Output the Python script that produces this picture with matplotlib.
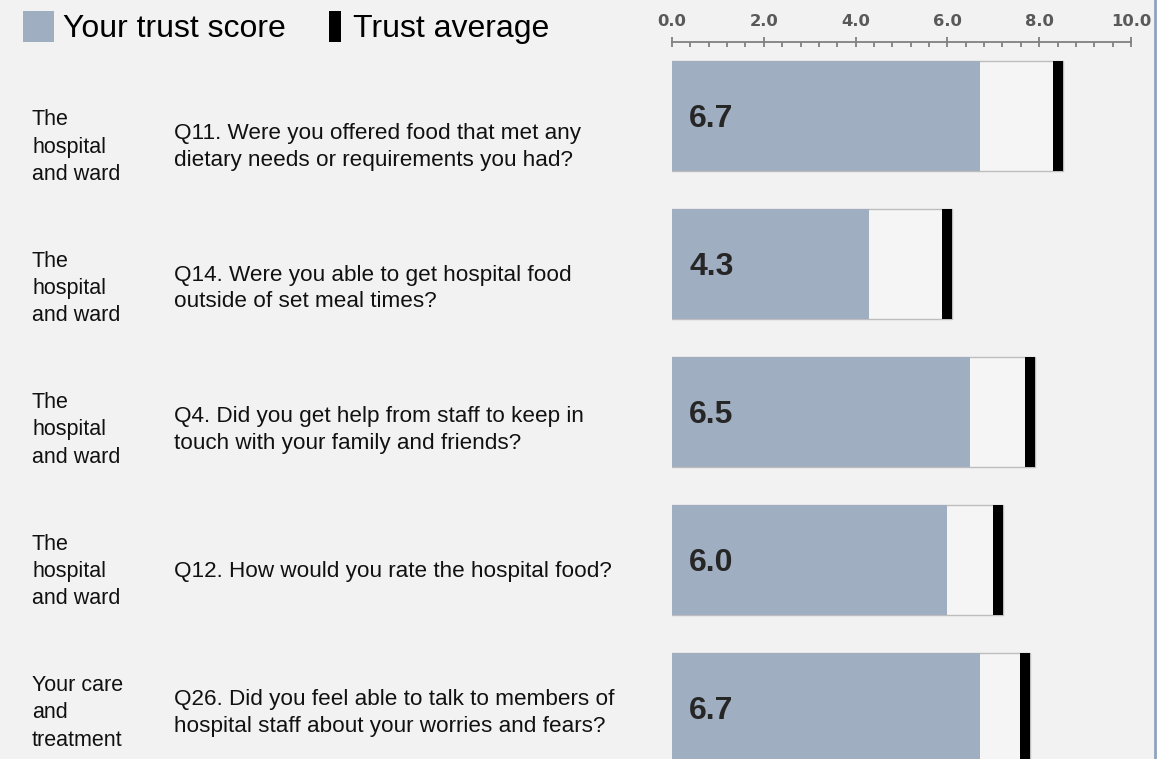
import matplotlib.pyplot as plt
import matplotlib.transforms as mtransforms
from matplotlib.patches import Rectangle
from matplotlib.lines import Line2D
from matplotlib.ticker import MultipleLocator

plt.rcParams['font.family'] = ['Liberation Sans', 'DejaVu Sans']

sections = ["The\nhospital\nand ward", "The\nhospital\nand ward",
            "The\nhospital\nand ward", "The\nhospital\nand ward",
            "Your care\nand\ntreatment"]
questions = ["Q11. Were you offered food that met any\ndietary needs or requirements you had?",
             "Q14. Were you able to get hospital food\noutside of set meal times?",
             "Q4. Did you get help from staff to keep in\ntouch with your family and friends?",
             "Q12. How would you rate the hospital food?",
             "Q26. Did you feel able to talk to members of\nhospital staff about your worries and fears?"]
scores = [6.7, 4.3, 6.5, 6.0, 6.7]
averages = [8.4, 6.0, 7.8, 7.1, 7.7]
ticks = [0, 2, 4, 6, 8, 10]

W, H = 1173, 759
score_col = '#a0aec1'
bg = '#f2f2f2'

fig = plt.figure(figsize=(W / 100, H / 100), dpi=100)
fig.patch.set_facecolor('white')
fig.patches.append(Rectangle((0, 0), 1154 / W, 1, transform=fig.transFigure,
                             facecolor=bg, edgecolor='none', zorder=-10))
fig.add_artist(Line2D([1155 / W] * 2, [0, 1], color='#8fa3bf', lw=2))

# legend
fig.patches.append(Rectangle((23 / W, 1 - 42 / H), 31 / W, 31 / H, transform=fig.transFigure,
                             facecolor=score_col, edgecolor='none'))
fig.text(63 / W, 1 - 37 / H, "Your trust score", fontsize=23, va='baseline', color='black')
fig.patches.append(Rectangle((329 / W, 1 - 42 / H), 12 / W, 31 / H, transform=fig.transFigure,
                             facecolor='black', edgecolor='none'))
fig.text(353 / W, 1 - 37 / H, "Trust average", fontsize=23, va='baseline', color='black')

# text column
tax = fig.add_axes([0, 0, 1, 1])
tax.set_axis_off()
tax.set_ylim((H - 147) / 141.5, -147 / 141.5)
trans = mtransforms.blended_transform_factory(fig.transFigure, tax.transData)
for i, (sec, q) in enumerate(zip(sections, questions)):
    tax.text(32 / W, i, sec, transform=trans, fontsize=15.5, va='center', ha='left',
             linespacing=1.38, color='#111111')
    tax.text(174 / W, i, q, transform=trans, fontsize=16.2, va='center', ha='left',
             linespacing=1.32, color='#111111')

# bars
ax = fig.add_axes([672 / W, 0, 459 / W, 1])
ax.set_facecolor('none')
ax.set_xlim(0, 10)
ax.set_ylim((H - 116) / 148, -116 / 148)
ypos = list(range(len(scores)))
bh = 0.743
mw = 0.22
ax.barh(ypos, [a + mw / 2 for a in averages], height=bh, color='#f5f5f5',
        edgecolor='#bdbdbd', linewidth=1)
ax.barh(ypos, scores, height=bh, color=score_col, edgecolor='none')
ax.barh(ypos, mw, left=[a - mw / 2 for a in averages], height=bh, color='black',
        edgecolor='none')
for i, s in enumerate(scores):
    ax.annotate(f"{s:.1f}", (0, i), xytext=(12.5, -2), textcoords='offset points',
                va='center', ha='left', fontsize=23, fontweight='bold', color='#262626')

for side in ['left', 'right', 'bottom']:
    ax.spines[side].set_visible(False)
ax.spines['top'].set_position(('data', -0.5))
ax.spines['top'].set_color('#808080')
ax.spines['top'].set_linewidth(1.3)
ax.xaxis.tick_top()
ax.set_xticks(ticks)
ax.set_xticklabels([f"{t:.1f}" for t in ticks], family='DejaVu Sans', fontweight='bold',
                   fontsize=11.8, color='#595959')
ax.xaxis.set_minor_locator(MultipleLocator(0.4))
ax.tick_params(axis='x', which='major', direction='inout', length=7.2, width=1.3,
               color='#808080', pad=6)
ax.tick_params(axis='x', which='minor', direction='in', length=3.6, width=1.3,
               color='#808080')
ax.set_yticks([])

fig.savefig('out.png', dpi=100, facecolor=fig.get_facecolor())
